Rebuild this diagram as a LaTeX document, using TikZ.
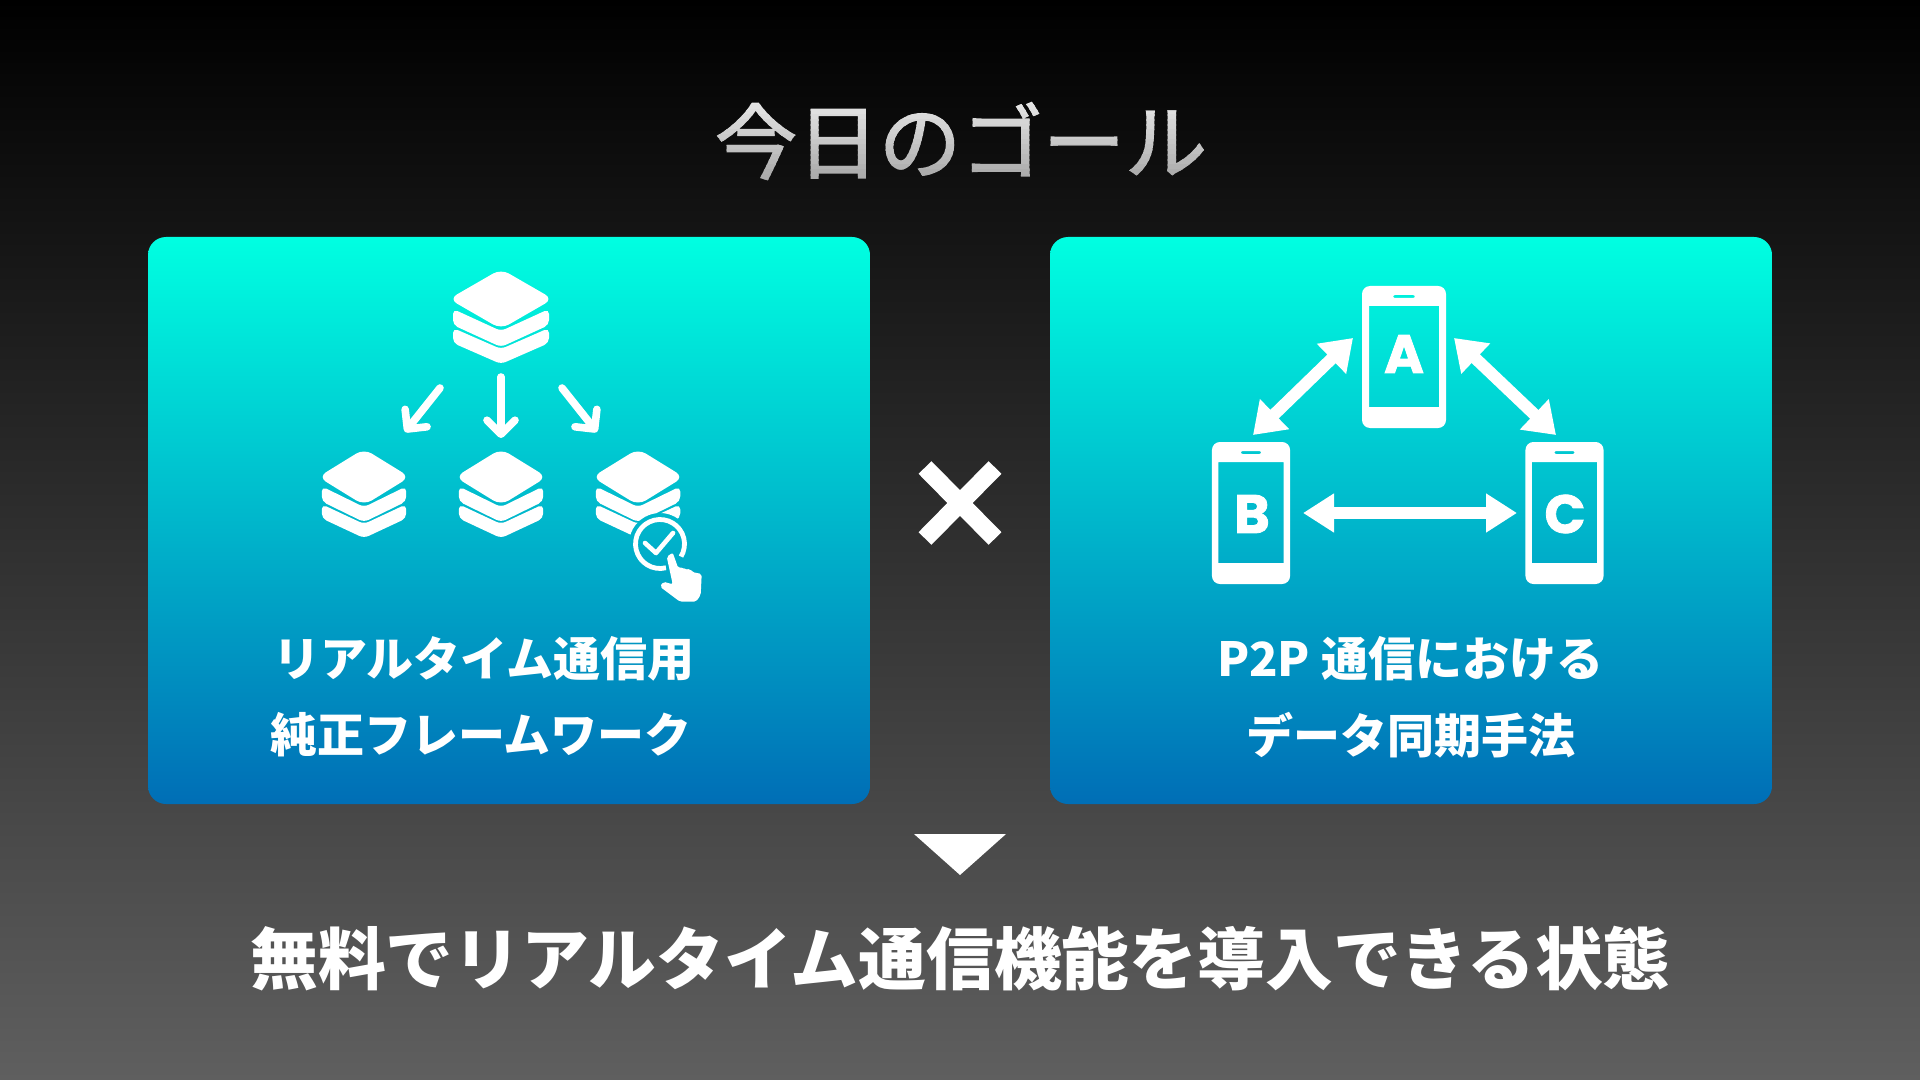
\documentclass[tikz,border=0pt]{standalone}
\usepackage{fontspec}
\setmainfont{Noto Sans CJK JP}
\newfontfamily\phonefont[BoldFeatures={FakeBold=1.5}]{Poppins}
\newfontfamily\titlefont[FakeBold=1.8]{Noto Sans CJK JP}
\usetikzlibrary{arrows.meta,positioning}
\definecolor{bgtop}{RGB}{0,0,0}
\definecolor{bgbottom}{RGB}{95,95,95}
\definecolor{cardtop}{RGB}{0,255,225}
\definecolor{cardbottom}{RGB}{0,110,182}
\tikzset{
  card/.style={rounded corners=9pt, top color=cardtop, bottom color=cardbottom, draw=none},
  titletext/.style={font=\titlefont\fontsize{41}{48}\selectfont, inner sep=0pt},
  cardtext/.style={font=\fontsize{23.5}{28}\selectfont\bfseries, white, inner sep=0pt},
  goaltext/.style={font=\fontsize{33.9}{40}\selectfont\bfseries, white, inner sep=0pt},
  phonelabel/.style={font=\phonefont\fontsize{27}{32}\selectfont\bfseries, white, inner sep=0pt},
  flow/.style={white, line width=3.8pt, line cap=round, -{Straight Barb[length=7pt,width=14pt,round]}},
  syncwide/.style={white, line width=6.4pt, {Triangle[length=15.5pt,width=18.5pt]}-{Triangle[length=15.5pt,width=18.5pt]}},
  syncdiag/.style={white, line width=6pt, {Triangle[length=15pt,width=20pt]}-{Triangle[length=15pt,width=20pt]}},
  layerstack/.pic={
    \fill[white, rounded corners=4.5pt] (-52,0) -- (0,30) -- (52,0) -- (0,-30) -- cycle;
    \fill[white, rounded corners=2.5pt] (-48,-10) -- (0,-32) -- (48,-10) -- (48,-26) -- (0,-48) -- (-48,-26) -- cycle;
    \fill[white, rounded corners=2.5pt] (-48,-29) -- (0,-50) -- (48,-29) -- (48,-44) -- (0,-65) -- (-48,-44) -- cycle;
  },
  phonebody/.pic={
    \fill[white, even odd rule] [rounded corners=4pt] (-42,-71) rectangle (42,71)
      [sharp corners] (-35,-50) rectangle (35,51)
      [rounded corners=1pt] (-11,59) rectangle (11,62);
  },
}
\begin{document}
\begin{tikzpicture}[x=0.5pt, y=0.5pt]
    \useasboundingbox (0,0) rectangle (1920,-1080);

    % Background
    \shade[top color=bgtop, bottom color=bgbottom] (0,0) rectangle (1920,-1080);

    % Title, cut in strips for the grey gradient
    \foreach \i in {0,...,18} {
        \pgfmathtruncatemacro{\lum}{93-1.6*\i}
        \begin{scope}
            \clip (600,-95-5*\i) rectangle (1320,-101-5*\i);
            \node[titletext, text=white!\lum!black] (title) at (961,-141) {今日のゴール};
        \end{scope}
    }

    % Cards
    \path[card] (148,-237) rectangle (870,-804);
    \path[card] (1050,-237) rectangle (1772,-804);

    % Layer stacks
    \pic at (501,-299) {layerstack};
    \pic[xscale=0.88, yscale=0.94] at (364,-477) {layerstack};
    \pic[xscale=0.88, yscale=0.94] at (501,-477) {layerstack};
    \begin{scope}[even odd rule]
        \clip (560,-420) rectangle (760,-620) (660,-544) circle (31);
        \pic[xscale=0.88, yscale=0.94] at (638,-477) {layerstack};
    \end{scope}

    % Flow arrows
    \coordinate (flowLs) at (440,-388);
    \coordinate (flowLe) at (405,-432);
    \coordinate (flowCs) at (501,-377);
    \coordinate (flowCe) at (501,-438);
    \coordinate (flowRs) at (562,-388);
    \coordinate (flowRe) at (597,-432);
    \draw[flow] (flowLs) -- (flowLe);
    \draw[flow] (flowCs) -- (flowCe);
    \draw[flow] (flowRs) -- (flowRe);

    % Check mark and hand
    \draw[white, line width=2.4pt] (660,-544) ++(-76:24.5) arc (-76:-391:24.5);
    \draw[white, line width=2.3pt, line cap=round, line join=round] (645,-543) -- (656,-553) -- (673,-533);
    \fill[white, rounded corners=1pt] (666.7,-556.7) -- (672.7,-552.7) -- (678.3,-568.3) -- (683,-567) -- (685,-570)
        -- (690,-568.5) -- (692,-572) -- (701.7,-574) -- (700.7,-595) -- (696,-601.7) -- (680,-601.7) -- (660,-586.7)
        -- (663.3,-581.7) -- (672.7,-584.3) -- cycle;

    % Phones
    \pic at (1404,-357) {phonebody};
    \pic[xscale=0.93] at (1251,-513) {phonebody};
    \pic[xscale=0.93] at (1564.5,-513) {phonebody};
    \node[phonelabel] (phoneA) at (1404,-354) {A};
    \node[phonelabel] (phoneB) at (1252,-514) {B};
    \node[phonelabel] (phoneC) at (1565,-514) {C};

    % Sync arrows
    \coordinate (syncAB) at (1353,-338);
    \coordinate (syncBA) at (1253,-435);
    \coordinate (syncAC) at (1454,-338);
    \coordinate (syncCA) at (1556,-435);
    \coordinate (syncBC) at (1303,-513);
    \coordinate (syncCB) at (1517,-513);
    \draw[syncdiag] (syncAB) -- (syncBA);
    \draw[syncdiag] (syncAC) -- (syncCA);
    \draw[syncwide] (syncBC) -- (syncCB);

    % Card texts
    \node[cardtext] (leftone) at (484,-659) {リアルタイム通信用};
    \node[cardtext] (lefttwo) at (481,-735) {純正フレームワーク};
    \node[cardtext] (rightone) at (1410,-659) {P2P 通信における};
    \node[cardtext] (righttwo) at (1411,-735) {データ同期手法};

    % Cross and triangle
    \draw[white, line width=9pt] (925,-467.5) -- (995,-538.5);
    \draw[white, line width=9pt] (995,-467.5) -- (925,-538.5);
    \fill[white] (914,-834) -- (1006,-834) -- (960,-875) -- cycle;

    % Goal
    \node[goaltext] (goal) at (960.5,-959) {無料でリアルタイム通信機能を導入できる状態};

\end{tikzpicture}
\end{document}
